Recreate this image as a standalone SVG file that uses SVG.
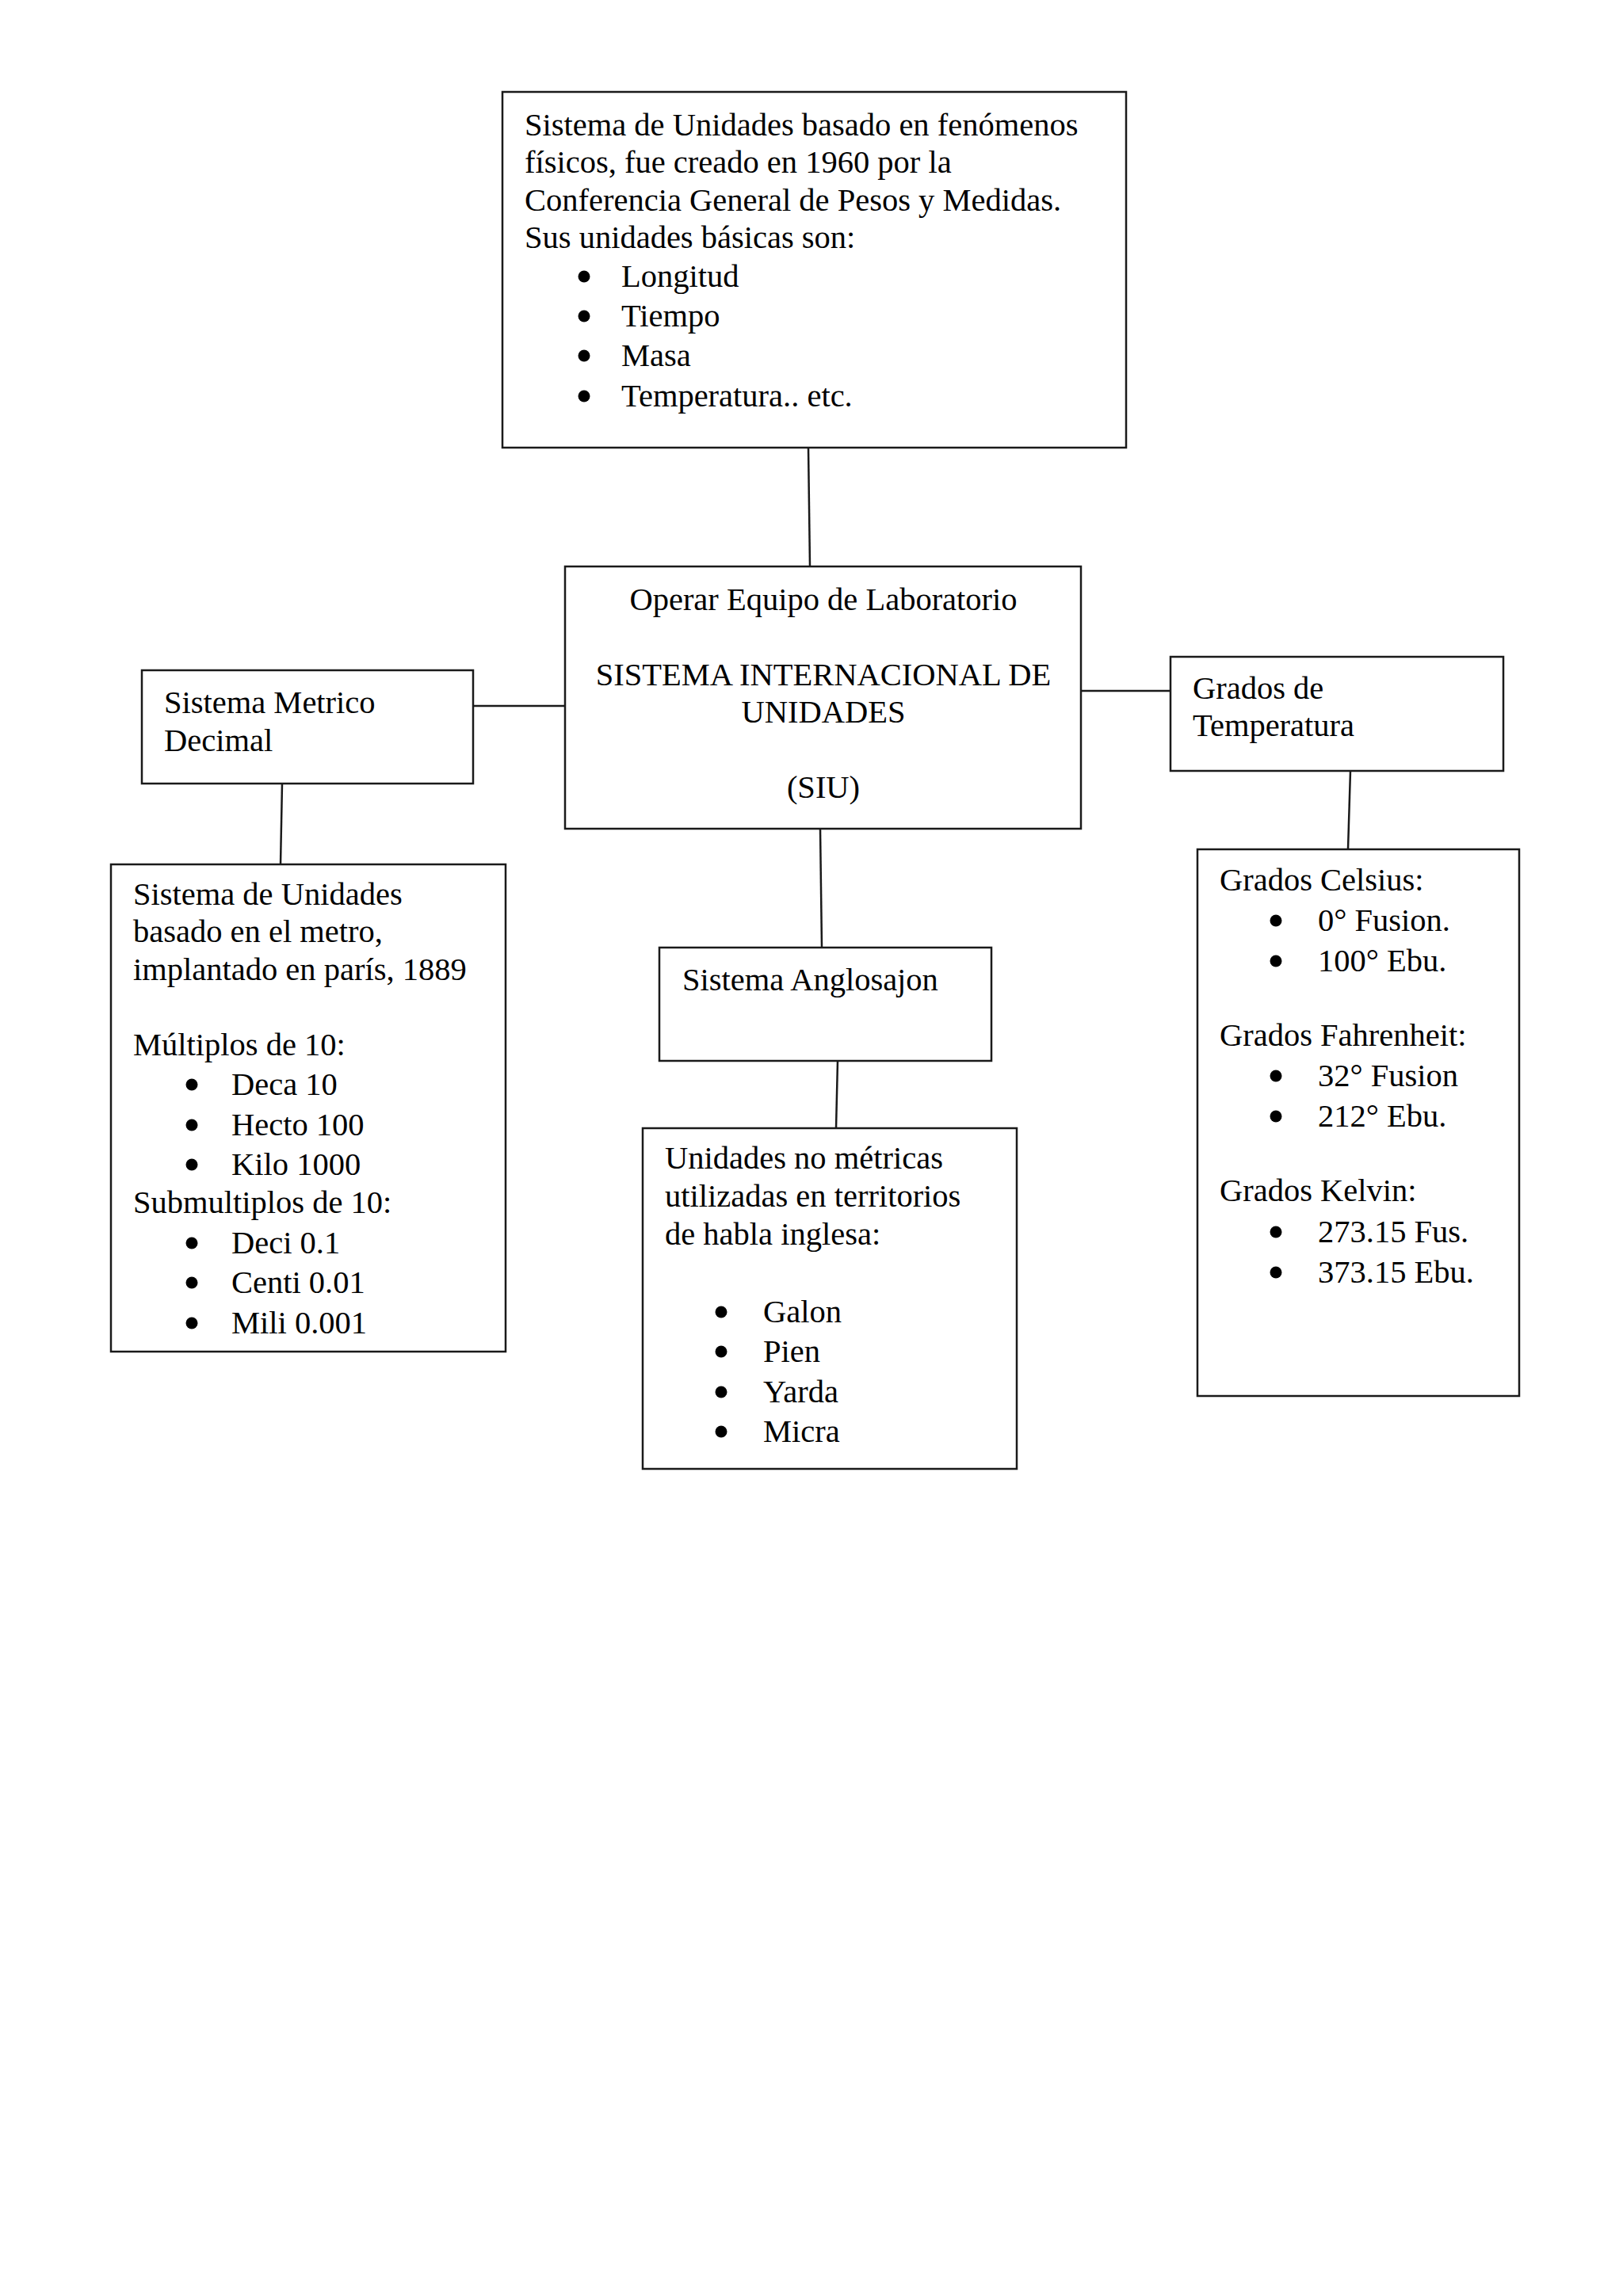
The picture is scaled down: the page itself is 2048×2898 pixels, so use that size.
<svg xmlns="http://www.w3.org/2000/svg" width="2048" height="2898" viewBox="0 0 2048 2898">
<style>
.box{fill:#fff;stroke:#1a1a1a;stroke-width:2.5}
.conn line{stroke:#1a1a1a;stroke-width:2.5}
text{font-family:"Liberation Serif","Times New Roman",serif;font-size:40.5px;fill:#000}
.c{text-anchor:middle}
.dot{fill:#000}
</style>
<rect width="2048" height="2898" fill="#fff"/>
<g id="connectors" class="conn">
<line x1="1020" y1="565" x2="1022" y2="715"/>
<line x1="597" y1="891" x2="713" y2="891"/>
<line x1="1364" y1="872" x2="1477" y2="872"/>
<line x1="356" y1="989" x2="354" y2="1091"/>
<line x1="1035" y1="1046" x2="1037" y2="1196"/>
<line x1="1057" y1="1339" x2="1055" y2="1424"/>
<line x1="1704" y1="973" x2="1701" y2="1072"/>
</g>
<g id="node-si-def">
<rect class="box" x="634" y="116" width="787" height="449"/>
<text x="662" y="171">Sistema de Unidades basado en fenómenos</text>
<text x="662" y="218">físicos, fue creado en 1960 por la</text>
<text x="662" y="266">Conferencia General de Pesos y Medidas.</text>
<text x="662" y="313">Sus unidades básicas son:</text>
<circle class="dot" cx="737" cy="349" r="7.5"/><text x="784" y="362">Longitud</text>
<circle class="dot" cx="737" cy="399" r="7.5"/><text x="784" y="412">Tiempo</text>
<circle class="dot" cx="737" cy="449" r="7.5"/><text x="784" y="462">Masa</text>
<circle class="dot" cx="737" cy="500" r="7.5"/><text x="784" y="513">Temperatura.. etc.</text>
</g>
<g id="node-center">
<rect class="box" x="713" y="715" width="651" height="331"/>
<text class="c" x="1039" y="770">Operar Equipo de Laboratorio</text>
<text class="c" x="1039" y="865">SISTEMA INTERNACIONAL DE</text>
<text class="c" x="1039" y="912">UNIDADES</text>
<text class="c" x="1039" y="1007">(SIU)</text>
</g>
<g id="node-metrico">
<rect class="box" x="179" y="846" width="418" height="143"/>
<text x="207" y="900">Sistema Metrico</text>
<text x="207" y="948">Decimal</text>
</g>
<g id="node-grados">
<rect class="box" x="1477" y="829" width="420" height="144"/>
<text x="1505" y="882">Grados de</text>
<text x="1505" y="929">Temperatura</text>
</g>
<g id="node-metrico-def">
<rect class="box" x="140" y="1091" width="498" height="615"/>
<text x="168" y="1142">Sistema de Unidades</text>
<text x="168" y="1189">basado en el metro,</text>
<text x="168" y="1237">implantado en parís, 1889</text>
<text x="168" y="1332">Múltiplos de 10:</text>
<circle class="dot" cx="242" cy="1369" r="7.5"/><text x="292" y="1382">Deca 10</text>
<circle class="dot" cx="242" cy="1420" r="7.5"/><text x="292" y="1433">Hecto 100</text>
<circle class="dot" cx="242" cy="1470" r="7.5"/><text x="292" y="1483">Kilo 1000</text>
<text x="168" y="1531">Submultiplos de 10:</text>
<circle class="dot" cx="242" cy="1569" r="7.5"/><text x="292" y="1582">Deci 0.1</text>
<circle class="dot" cx="242" cy="1619" r="7.5"/><text x="292" y="1632">Centi 0.01</text>
<circle class="dot" cx="242" cy="1670" r="7.5"/><text x="292" y="1683">Mili 0.001</text>
</g>
<g id="node-anglo">
<rect class="box" x="832" y="1196" width="419" height="143"/>
<text x="861" y="1250">Sistema Anglosajon</text>
</g>
<g id="node-anglo-def">
<rect class="box" x="811" y="1424" width="472" height="430"/>
<text x="839" y="1475">Unidades no métricas</text>
<text x="839" y="1523">utilizadas en territorios</text>
<text x="839" y="1571">de habla inglesa:</text>
<circle class="dot" cx="910" cy="1656" r="7.5"/><text x="963" y="1669">Galon</text>
<circle class="dot" cx="910" cy="1706" r="7.5"/><text x="963" y="1719">Pien</text>
<circle class="dot" cx="910" cy="1757" r="7.5"/><text x="963" y="1770">Yarda</text>
<circle class="dot" cx="910" cy="1807" r="7.5"/><text x="963" y="1820">Micra</text>
</g>
<g id="node-grados-def">
<rect class="box" x="1511" y="1072" width="406" height="690"/>
<text x="1539" y="1124">Grados Celsius:</text>
<circle class="dot" cx="1610" cy="1162" r="7.5"/><text x="1663" y="1175">0° Fusion.</text>
<circle class="dot" cx="1610" cy="1213" r="7.5"/><text x="1663" y="1226">100° Ebu.</text>
<text x="1539" y="1320">Grados Fahrenheit:</text>
<circle class="dot" cx="1610" cy="1358" r="7.5"/><text x="1663" y="1371">32° Fusion</text>
<circle class="dot" cx="1610" cy="1409" r="7.5"/><text x="1663" y="1422">212° Ebu.</text>
<text x="1539" y="1516">Grados Kelvin:</text>
<circle class="dot" cx="1610" cy="1555" r="7.5"/><text x="1663" y="1568">273.15 Fus.</text>
<circle class="dot" cx="1610" cy="1606" r="7.5"/><text x="1663" y="1619">373.15 Ebu.</text>
</g>
</svg>
